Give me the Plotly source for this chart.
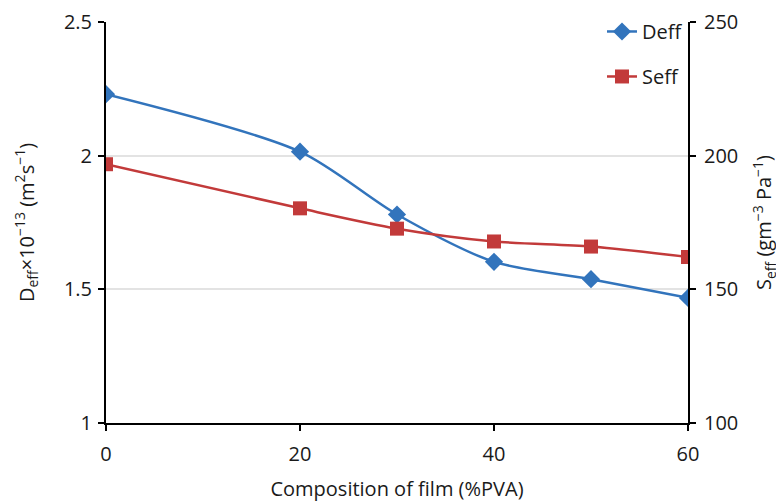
import plotly.graph_objects as go

composition = [0, 20, 30, 40, 50, 60]
deff = [2.23, 2.015, 1.78, 1.603, 1.538, 1.468]
seff = [196.8, 180.3, 172.7, 167.9, 166.0, 162.1]

x_ticks = [0, 20, 40, 60]
left_ticks = [1, 1.5, 2, 2.5]
right_ticks = [100, 150, 200, 250]

BLUE = "#3274BC"
RED = "#C23A3A"
FONT = "Open Sans, Noto Sans, sans-serif"
TXT = "#1a1a1a"

fig = go.Figure()
fig.add_trace(go.Scatter(
    x=composition, y=deff, name="Deff", mode="lines+markers",
    line=dict(color=BLUE, width=2.5, shape="spline", smoothing=0.8),
    marker=dict(symbol="diamond", size=14, color=BLUE),
    legendgroup="a",
))
fig.add_trace(go.Scatter(
    x=composition, y=seff, name="Seff", mode="lines+markers", yaxis="y2",
    line=dict(color=RED, width=2.5, shape="spline", smoothing=0.8),
    marker=dict(symbol="square", size=14, color=RED),
    legendgroup="b",
))

fig.update_layout(
    width=784, height=502,
    margin=dict(l=98, r=104, t=14, b=87, autoexpand=False),
    paper_bgcolor="white", plot_bgcolor="white",
    font=dict(family=FONT, size=20, color=TXT),
    xaxis=dict(
        range=[0, 60], tickvals=x_ticks, showgrid=False, zeroline=False,
        showline=True, linecolor="black", linewidth=2,
        ticks="outside", ticklen=6, tickcolor="black", tickwidth=1.5,
        ticklabelstandoff=6, ticklabeloverflow="allow",
        title=dict(text="Composition of film (%PVA)", standoff=16, font=dict(size=20)),
    ),
    yaxis=dict(
        range=[1, 2.5], tickvals=left_ticks, ticktext=["1", "1.5", "2", "2.5"],
        showgrid=True, gridcolor="#E3E3E3", gridwidth=1.5, zeroline=False,
        showline=True, linecolor="black", linewidth=2,
        ticks="outside", ticklen=6, tickcolor="black", tickwidth=1.5,
        ticklabelstandoff=2, ticklabeloverflow="allow",
        title=dict(text="D<sub>eff</sub>×10<sup>−13</sup> (m<sup>2</sup>s<sup>−1</sup>)", standoff=24, font=dict(size=20)),
    ),
    yaxis2=dict(
        range=[100, 250], tickvals=right_ticks, overlaying="y", side="right",
        showgrid=False, zeroline=False,
        showline=True, linecolor="black", linewidth=2,
        ticks="outside", ticklen=6, tickcolor="black", tickwidth=1.5,
        ticklabelstandoff=4, ticklabeloverflow="allow",
        title=dict(text="S<sub>eff</sub> (gm<sup>−3</sup> Pa<sup>−1</sup>)", standoff=20, font=dict(size=20)),
    ),
    legend=dict(
        x=1.0, y=1.025, xanchor="right", yanchor="top",
        bgcolor="rgba(255,255,255,0)", font=dict(size=20),
        tracegroupgap=16,
    ),
)

fig.write_html("out.html")
